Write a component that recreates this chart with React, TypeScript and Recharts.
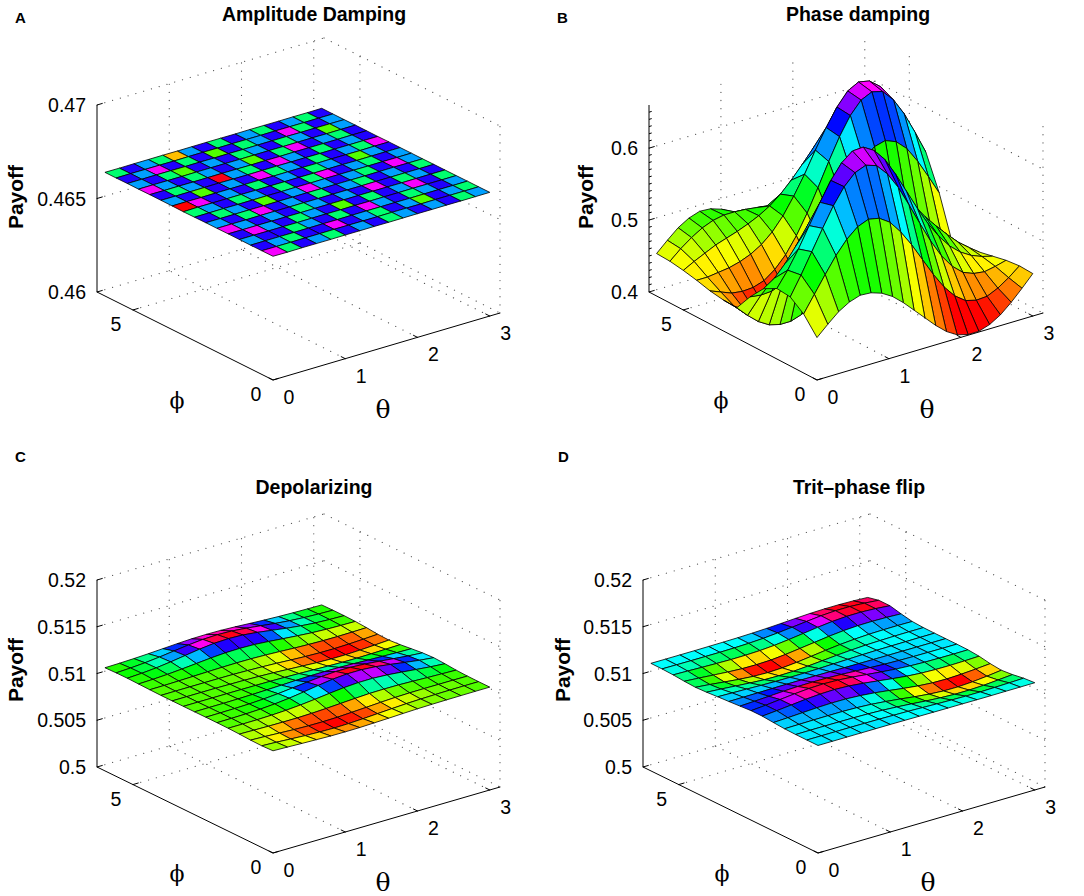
import { Scatter, ScatterChart, XAxis, YAxis } from "recharts";

const SANS = '"Liberation Sans", Arial, Helvetica, sans-serif';
const SERIF = '"DejaVu Serif", "Liberation Serif", serif';

const CHART_W = 540;
const CHART_H = 440;

// sample points of the surfaces (theta along the right axis, phi along the left one)
const thetaSamples = [0, 0.2, 0.4, 0.6, 0.8, 1, 1.2, 1.4, 1.6, 1.8, 2, 2.2, 2.4, 2.6, 2.8, 3];
const phiSamples = [0, 0.4, 0.8, 1.2, 1.6, 2, 2.4, 2.8, 3.2, 3.6, 4, 4.4, 4.8, 5.2, 5.6, 6];
const thetaSamplesPhase = [
  0, 0.15, 0.3, 0.45, 0.6, 0.75, 0.9, 1.05, 1.2, 1.35, 1.5, 1.65, 1.8, 1.95, 2.1, 2.25, 2.4, 2.55, 2.7, 2.85, 3,
];
const phiSamplesPhase = [0, 0.5, 1, 1.5, 2, 2.5, 3, 3.5, 4, 4.5, 5, 5.5, 6];

const thetaTicks = [0, 1, 2, 3];
const phiTicks = [0, 5];
const amplitudeTicks = [0.46, 0.465, 0.47];
const phaseTicks = [0.4, 0.5, 0.6];
const phaseMinorTicks = [
  0.41, 0.42, 0.43, 0.44, 0.45, 0.46, 0.47, 0.48, 0.49, 0.51, 0.52, 0.53, 0.54, 0.55, 0.56, 0.57, 0.58, 0.59, 0.61,
  0.62, 0.63, 0.64, 0.65,
];
const channelTicks = [0.5, 0.505, 0.51, 0.515, 0.52];

// payoff[phi][theta]
const amplitudeDamping = [
  [0.4666167, 0.4666083, 0.4666138, 0.4666113, 0.4666083, 0.4666138, 0.4666113, 0.4666138, 0.4666083, 0.4666113, 0.4666138, 0.4666113, 0.4666138, 0.4666083, 0.4666113, 0.4666138],
  [0.4666138, 0.4666113, 0.4666083, 0.4666138, 0.4666138, 0.4666167, 0.4666138, 0.4666113, 0.4666083, 0.4666138, 0.4666113, 0.4666058, 0.4666138, 0.4666113, 0.4666083, 0.4666113],
  [0.4666113, 0.4666138, 0.4666138, 0.4666083, 0.4666113, 0.4666138, 0.4666083, 0.4666138, 0.4666167, 0.4666113, 0.4666138, 0.4666083, 0.4666113, 0.4666138, 0.4666113, 0.4666138],
  [0.4666138, 0.4666167, 0.4666113, 0.4666138, 0.4666083, 0.4666113, 0.4666138, 0.4666058, 0.4666138, 0.4666083, 0.4666138, 0.4666113, 0.4666167, 0.4666138, 0.4666083, 0.4666113],
  [0.4666167, 0.4666113, 0.4666138, 0.4666113, 0.4666138, 0.4666083, 0.4666113, 0.4666138, 0.4666113, 0.4666138, 0.4666167, 0.4666138, 0.4666083, 0.4666113, 0.4666138, 0.4666113],
  [0.4666113, 0.4666138, 0.4666083, 0.4666167, 0.4666138, 0.4666113, 0.4666138, 0.4666083, 0.4666138, 0.4666113, 0.4666083, 0.4666138, 0.4666113, 0.4666138, 0.4666083, 0.4666138],
  [0.4666138, 0.4666083, 0.4666113, 0.4666138, 0.4666058, 0.4666138, 0.4666113, 0.4666167, 0.4666113, 0.4666138, 0.4666113, 0.4666083, 0.4666138, 0.4666167, 0.4666113, 0.4666083],
  [0.4666083, 0.4666113, 0.4666138, 0.4666083, 0.4666113, 0.4666138, 0.4666083, 0.4666138, 0.4666083, 0.4666167, 0.4666138, 0.4666113, 0.4666083, 0.4666138, 0.4666113, 0.4666138],
  [0.4666, 0.4666167, 0.4666138, 0.4666113, 0.4666138, 0.4666083, 0.4666138, 0.4666113, 0.4666138, 0.4666083, 0.4666113, 0.4666138, 0.4666058, 0.4666113, 0.4666138, 0.4666113],
  [0.4666113, 0.4666138, 0.4666058, 0.4666138, 0.4666113, 0.4666138, 0.4666167, 0.4666083, 0.4666113, 0.4666138, 0.4666083, 0.4666138, 0.4666113, 0.4666083, 0.4666167, 0.4666138],
  [0.4666138, 0.4666083, 0.4666113, 0.4666138, 0.46662, 0.4666113, 0.4666083, 0.4666138, 0.4666167, 0.4666113, 0.4666138, 0.4666083, 0.4666138, 0.4666113, 0.4666138, 0.4666083],
  [0.4666167, 0.4666113, 0.4666138, 0.4666083, 0.4666113, 0.4666138, 0.4666113, 0.4666058, 0.4666138, 0.4666083, 0.4666167, 0.4666138, 0.4666113, 0.4666083, 0.4666138, 0.4666113],
  [0.4666113, 0.4666138, 0.4666083, 0.4666058, 0.4666138, 0.4666113, 0.4666138, 0.4666083, 0.4666113, 0.4666138, 0.4666083, 0.4666113, 0.4666138, 0.4666058, 0.4666113, 0.4666138],
  [0.4666138, 0.4666113, 0.4666167, 0.4666138, 0.4666083, 0.4666138, 0.4666058, 0.4666138, 0.4666083, 0.4666113, 0.4666138, 0.4666167, 0.4666083, 0.4666138, 0.4666113, 0.4666083],
  [0.4666083, 0.4666138, 0.4666113, 0.4666083, 0.4666027, 0.4666113, 0.4666138, 0.4666083, 0.4666138, 0.4666113, 0.4666083, 0.4666138, 0.4666113, 0.4666083, 0.4666138, 0.4666113],
  [0.4666113, 0.4666083, 0.4666138, 0.4666113, 0.4666138, 0.4666083, 0.4666113, 0.4666138, 0.4666113, 0.4666083, 0.4666138, 0.4666113, 0.4666083, 0.4666113, 0.4666083, 0.4666138],
];

const phaseDamping = [
  [0.459, 0.473, 0.486, 0.495, 0.5, 0.499, 0.494, 0.485, 0.472, 0.457, 0.442, 0.427, 0.414, 0.405, 0.401, 0.401, 0.406, 0.415, 0.428, 0.443, 0.459],
  [0.482, 0.505, 0.528, 0.55, 0.568, 0.581, 0.587, 0.584, 0.574, 0.556, 0.534, 0.509, 0.484, 0.462, 0.445, 0.434, 0.43, 0.431, 0.438, 0.448, 0.46],
  [0.496, 0.522, 0.55, 0.578, 0.605, 0.627, 0.642, 0.648, 0.643, 0.627, 0.604, 0.575, 0.545, 0.516, 0.491, 0.472, 0.459, 0.453, 0.451, 0.454, 0.458],
  [0.498, 0.519, 0.544, 0.572, 0.6, 0.626, 0.646, 0.658, 0.659, 0.65, 0.633, 0.608, 0.58, 0.552, 0.526, 0.504, 0.486, 0.473, 0.464, 0.458, 0.454],
  [0.488, 0.498, 0.514, 0.534, 0.556, 0.578, 0.598, 0.613, 0.62, 0.62, 0.612, 0.599, 0.581, 0.561, 0.541, 0.521, 0.504, 0.488, 0.473, 0.461, 0.45],
  [0.467, 0.465, 0.466, 0.472, 0.482, 0.495, 0.51, 0.524, 0.536, 0.544, 0.549, 0.549, 0.546, 0.54, 0.531, 0.52, 0.507, 0.492, 0.476, 0.46, 0.445],
  [0.442, 0.427, 0.414, 0.405, 0.401, 0.401, 0.406, 0.415, 0.428, 0.443, 0.459, 0.473, 0.486, 0.495, 0.5, 0.499, 0.494, 0.485, 0.472, 0.457, 0.442],
  [0.443, 0.43, 0.42, 0.413, 0.411, 0.415, 0.424, 0.439, 0.459, 0.483, 0.51, 0.537, 0.561, 0.581, 0.594, 0.598, 0.592, 0.578, 0.556, 0.53, 0.503],
  [0.446, 0.44, 0.434, 0.432, 0.433, 0.438, 0.449, 0.465, 0.487, 0.514, 0.545, 0.577, 0.607, 0.632, 0.649, 0.656, 0.652, 0.636, 0.612, 0.582, 0.55],
  [0.451, 0.451, 0.453, 0.455, 0.459, 0.465, 0.474, 0.487, 0.505, 0.528, 0.554, 0.583, 0.61, 0.634, 0.652, 0.66, 0.657, 0.645, 0.624, 0.598, 0.57],
  [0.455, 0.463, 0.47, 0.477, 0.482, 0.487, 0.493, 0.5, 0.509, 0.521, 0.536, 0.553, 0.571, 0.587, 0.6, 0.607, 0.607, 0.601, 0.59, 0.575, 0.558],
  [0.458, 0.471, 0.482, 0.491, 0.497, 0.5, 0.5, 0.499, 0.497, 0.495, 0.495, 0.496, 0.499, 0.503, 0.508, 0.512, 0.515, 0.517, 0.518, 0.518, 0.517],
  [0.459, 0.473, 0.486, 0.495, 0.5, 0.499, 0.494, 0.485, 0.472, 0.457, 0.442, 0.427, 0.414, 0.405, 0.401, 0.401, 0.406, 0.415, 0.428, 0.443, 0.459],
];

const depolarizing = [
  [0.51093, 0.51088, 0.51082, 0.51077, 0.51072, 0.51071, 0.51072, 0.51077, 0.51082, 0.51088, 0.51093, 0.51096, 0.51098, 0.51099, 0.511, 0.511],
  [0.51088, 0.51081, 0.51071, 0.51062, 0.51056, 0.51053, 0.51056, 0.51063, 0.51072, 0.51081, 0.51089, 0.51094, 0.51097, 0.51099, 0.511, 0.511],
  [0.5109, 0.51084, 0.51076, 0.51068, 0.51063, 0.51062, 0.51065, 0.51073, 0.51081, 0.5109, 0.51097, 0.51101, 0.51102, 0.51102, 0.51102, 0.51101],
  [0.51096, 0.51093, 0.5109, 0.51089, 0.51089, 0.51093, 0.511, 0.51109, 0.51118, 0.51126, 0.51128, 0.51127, 0.51122, 0.51116, 0.51111, 0.51106],
  [0.511, 0.511, 0.51101, 0.51105, 0.51112, 0.51124, 0.5114, 0.51158, 0.51174, 0.51184, 0.51185, 0.51176, 0.51161, 0.51144, 0.51128, 0.51116],
  [0.51101, 0.51102, 0.51105, 0.51111, 0.51122, 0.51138, 0.5116, 0.51184, 0.51206, 0.51218, 0.51218, 0.51206, 0.51185, 0.51161, 0.51139, 0.51122],
  [0.51101, 0.51102, 0.51104, 0.51108, 0.51116, 0.51128, 0.51144, 0.51161, 0.51176, 0.51185, 0.51185, 0.51175, 0.5116, 0.51143, 0.51127, 0.51115],
  [0.511, 0.51101, 0.51101, 0.51103, 0.51106, 0.5111, 0.51115, 0.51121, 0.51125, 0.51126, 0.51125, 0.5112, 0.51114, 0.51109, 0.51104, 0.51101],
  [0.511, 0.511, 0.511, 0.511, 0.511, 0.51099, 0.51098, 0.51095, 0.51091, 0.51086, 0.51081, 0.51077, 0.51076, 0.51078, 0.51082, 0.51086],
  [0.511, 0.511, 0.511, 0.511, 0.51098, 0.51096, 0.51092, 0.51086, 0.51077, 0.51068, 0.51059, 0.51054, 0.51054, 0.51059, 0.51067, 0.51076],
  [0.511, 0.51101, 0.51101, 0.51101, 0.51101, 0.511, 0.51096, 0.51091, 0.51084, 0.51075, 0.51067, 0.51062, 0.51061, 0.51065, 0.51072, 0.5108],
  [0.51102, 0.51103, 0.51106, 0.5111, 0.51114, 0.51117, 0.51119, 0.51118, 0.51113, 0.51106, 0.51098, 0.51092, 0.51088, 0.51087, 0.51089, 0.51092],
  [0.51105, 0.5111, 0.51118, 0.5113, 0.51144, 0.51158, 0.51168, 0.51171, 0.51167, 0.51155, 0.5114, 0.51126, 0.51114, 0.51106, 0.51102, 0.511],
  [0.51108, 0.51116, 0.51129, 0.51148, 0.51171, 0.51194, 0.51211, 0.51217, 0.51211, 0.51194, 0.51171, 0.51148, 0.51129, 0.51115, 0.51107, 0.51103],
  [0.51107, 0.51114, 0.51125, 0.51141, 0.51161, 0.5118, 0.51195, 0.512, 0.51195, 0.5118, 0.51161, 0.51141, 0.51125, 0.51114, 0.51107, 0.51103],
  [0.51103, 0.51106, 0.51111, 0.51118, 0.51127, 0.51136, 0.51143, 0.51145, 0.51143, 0.51136, 0.51127, 0.51118, 0.51111, 0.51106, 0.51103, 0.51101],
];

const tritPhaseFlip = [
  [0.5115, 0.5115, 0.5115, 0.5115, 0.5115, 0.5115, 0.51149, 0.51148, 0.51147, 0.51146, 0.51146, 0.51145, 0.51145, 0.51146, 0.51146, 0.51147],
  [0.5115, 0.5115, 0.5115, 0.5115, 0.51149, 0.51148, 0.51145, 0.51142, 0.51137, 0.51132, 0.51128, 0.51125, 0.51125, 0.51128, 0.51132, 0.51137],
  [0.5115, 0.51151, 0.51151, 0.5115, 0.51149, 0.51146, 0.5114, 0.5113, 0.51118, 0.51104, 0.51093, 0.51086, 0.51086, 0.51092, 0.51104, 0.51117],
  [0.51153, 0.51155, 0.51157, 0.51158, 0.51158, 0.51154, 0.51145, 0.5113, 0.51112, 0.51091, 0.51074, 0.51063, 0.51062, 0.51071, 0.51086, 0.51105],
  [0.51161, 0.51168, 0.51176, 0.51184, 0.51189, 0.51188, 0.51179, 0.51164, 0.51144, 0.51122, 0.51103, 0.51091, 0.51088, 0.51094, 0.51104, 0.51117],
  [0.51171, 0.51184, 0.512, 0.51216, 0.51227, 0.51231, 0.51224, 0.51208, 0.51188, 0.51167, 0.51149, 0.51137, 0.51131, 0.5113, 0.51133, 0.51138],
  [0.51171, 0.51184, 0.512, 0.51216, 0.51228, 0.51233, 0.51228, 0.51215, 0.51198, 0.51181, 0.51166, 0.51156, 0.5115, 0.51148, 0.51147, 0.51148],
  [0.51161, 0.51168, 0.51176, 0.51185, 0.51191, 0.51193, 0.51191, 0.51185, 0.51176, 0.51168, 0.5116, 0.51155, 0.51152, 0.51151, 0.5115, 0.5115],
  [0.51152, 0.51153, 0.51154, 0.51156, 0.51157, 0.51157, 0.51157, 0.51156, 0.51154, 0.51153, 0.51152, 0.51151, 0.51151, 0.5115, 0.5115, 0.5115],
  [0.51144, 0.5114, 0.51136, 0.51131, 0.51128, 0.51127, 0.51128, 0.51131, 0.51136, 0.5114, 0.51144, 0.51147, 0.51148, 0.51149, 0.5115, 0.5115],
  [0.51134, 0.51123, 0.5111, 0.51098, 0.51088, 0.51085, 0.51088, 0.51098, 0.51111, 0.51124, 0.51135, 0.51143, 0.51147, 0.5115, 0.51151, 0.51151],
  [0.51128, 0.51113, 0.51095, 0.51078, 0.51065, 0.5106, 0.51066, 0.5108, 0.51099, 0.51119, 0.51136, 0.51148, 0.51156, 0.51159, 0.5116, 0.51158],
  [0.51134, 0.51123, 0.5111, 0.51098, 0.51089, 0.51087, 0.51092, 0.51106, 0.51125, 0.51145, 0.51165, 0.5118, 0.51189, 0.51191, 0.51188, 0.51181],
  [0.51144, 0.5114, 0.51135, 0.51131, 0.51128, 0.51129, 0.51134, 0.51145, 0.51162, 0.51182, 0.51203, 0.5122, 0.5123, 0.51231, 0.51223, 0.51209],
  [0.51149, 0.51148, 0.51147, 0.51147, 0.51147, 0.51149, 0.51153, 0.51161, 0.51174, 0.5119, 0.51207, 0.51223, 0.51232, 0.51232, 0.51223, 0.51209],
  [0.5115, 0.5115, 0.5115, 0.5115, 0.51151, 0.51152, 0.51154, 0.51158, 0.51164, 0.51172, 0.51181, 0.51189, 0.51193, 0.51193, 0.51189, 0.51181],
];

// view of the 3-D box: screen extent (px right, px up) of the full theta / phi range and of the z range
const THETA_MAX = Math.PI;
const PHI_MAX = 2 * Math.PI;
const Z_SPAN = 187;

type Panel = {
  letter: string;
  title: string;
  thetas: number[];
  phis: number[];
  values: number[][];
  zMin: number;
  zMax: number;
  zTicks: number[];
  zMinor: number[];
  hueTop: number;
  left: number;
  top: number;
  origin: [number, number];
  thetaDir: [number, number];
  phiDir: [number, number];
  payoffX: number;
  titleY: number;
  letterX: number;
  letterY: number;
};

const panels: Panel[] = [
  {
    letter: "A", title: "Amplitude Damping", thetas: thetaSamples, phis: phiSamples, values: amplitudeDamping,
    zMin: 0.46, zMax: 0.47, zTicks: amplitudeTicks, zMinor: [], hueTop: 354, left: 0, top: 0,
    origin: [273, 60], thetaDir: [227, 67], phiDir: [-176, 88], payoffX: 15, titleY: 21, letterX: 15, letterY: 23,
  },
  {
    letter: "B", title: "Phase damping", thetas: thetaSamplesPhase, phis: phiSamplesPhase, values: phaseDamping,
    zMin: 0.4, zMax: 0.66, zTicks: phaseTicks, zMinor: phaseMinorTicks, hueTop: 300, left: 540, top: 0,
    origin: [277, 60], thetaDir: [226, 67], phiDir: [-168, 88], payoffX: 45, titleY: 21, letterX: 17, letterY: 23,
  },
  {
    letter: "C", title: "Depolarizing", thetas: thetaSamples, phis: phiSamples, values: depolarizing,
    zMin: 0.5, zMax: 0.52, zTicks: channelTicks, zMinor: [], hueTop: 354, left: 0, top: 445,
    origin: [273, 32], thetaDir: [227, 66], phiDir: [-176, 86], payoffX: 15, titleY: 49, letterX: 15, letterY: 17,
  },
  {
    letter: "D", title: "Trit\u2013phase flip", thetas: thetaSamples, phis: phiSamples, values: tritPhaseFlip,
    zMin: 0.5, zMax: 0.52, zTicks: channelTicks, zMinor: [], hueTop: 354, left: 540, top: 445,
    origin: [278, 32], thetaDir: [227, 66], phiDir: [-175, 86], payoffX: 22, titleY: 49, letterX: 18, letterY: 17,
  },
];

function project(p: Panel, th: number, ph: number, z: number) {
  const a = th / THETA_MAX;
  const b = ph / PHI_MAX;
  const c = (z - p.zMin) / (p.zMax - p.zMin);
  return {
    x: p.origin[0] + a * p.thetaDir[0] + b * p.phiDir[0],
    y: p.origin[1] + a * p.thetaDir[1] + b * p.phiDir[1] + c * Z_SPAN,
  };
}

// 64-step hsv colormap
function hsvColor(frac: number, hueTop: number) {
  const idx = Math.max(0, Math.min(63, Math.floor(frac * 64)));
  return `hsl(${((idx / 63) * hueTop).toFixed(1)}, 100%, 50%)`;
}

type Seg = [number, number, number][];

function gridSegments(p: Panel): Seg[] {
  const segs: Seg[] = [];
  p.zTicks.forEach((z) => {
    segs.push([[0, PHI_MAX, z], [THETA_MAX, PHI_MAX, z]]);
    segs.push([[THETA_MAX, PHI_MAX, z], [THETA_MAX, 0, z]]);
  });
  thetaTicks.filter((t) => t > 0).forEach((t) => {
    segs.push([[t, PHI_MAX, p.zMin], [t, PHI_MAX, p.zMax]]);
    segs.push([[t, 0, p.zMin], [t, PHI_MAX, p.zMin]]);
  });
  phiTicks.forEach((f) => {
    segs.push([[THETA_MAX, f, p.zMin], [THETA_MAX, f, p.zMax]]);
    if (f > 0) segs.push([[0, f, p.zMin], [THETA_MAX, f, p.zMin]]);
  });
  return segs;
}

function axisSegments(p: Panel): Seg[] {
  const segs: Seg[] = [
    [[0, PHI_MAX, p.zMin], [0, PHI_MAX, p.zMax]],
    [[0, 0, p.zMin], [THETA_MAX, 0, p.zMin]],
    [[0, 0, p.zMin], [0, PHI_MAX, p.zMin]],
  ];
  thetaTicks.forEach((t) => segs.push([[t, 0, p.zMin], [t, PHI_MAX * 0.025, p.zMin]]));
  phiTicks.forEach((f) => segs.push([[0, f, p.zMin], [THETA_MAX * 0.025, f, p.zMin]]));
  p.zTicks.forEach((z) => segs.push([[0, PHI_MAX, z], [THETA_MAX * 0.025, PHI_MAX, z]]));
  p.zMinor.forEach((z) => segs.push([[0, PHI_MAX, z], [THETA_MAX * 0.012, PHI_MAX, z]]));
  return segs;
}

function buildSurface(p: Panel) {
  const all = p.values.flat();
  const lo = Math.min(...all);
  const hi = Math.max(...all);
  const cells: { i: number; j: number; depth: number }[] = [];
  for (let j = 0; j < p.phis.length - 1; j++) {
    for (let i = 0; i < p.thetas.length - 1; i++) {
      const depth =
        ((p.thetas[i] + p.thetas[i + 1]) / 2 / THETA_MAX) * p.thetaDir[1] +
        ((p.phis[j] + p.phis[j + 1]) / 2 / PHI_MAX) * p.phiDir[1];
      cells.push({ i, j, depth });
    }
  }
  // painter's order: farthest cells first
  cells.sort((a, b) => b.depth - a.depth);
  const points: { x: number; y: number }[] = [];
  const colors: string[] = [];
  cells.forEach(({ i, j }) => {
    [[i, j], [i + 1, j], [i + 1, j + 1], [i, j + 1]].forEach(([ci, cj]) => {
      points.push(project(p, p.thetas[ci], p.phis[cj], p.values[cj][ci]));
    });
    colors.push(hsvColor((p.values[j][i] - lo) / (hi - lo), p.hueTop));
  });
  return { points, colors };
}

const hiddenPoint = () => <g />;

const segmentLayer = (style: Record<string, any>) => (props: any) => {
  const pts = props.points || [];
  const out = [];
  for (let k = 0; k + 1 < pts.length; k += 2) {
    out.push(<line key={k} x1={pts[k].x} y1={pts[k].y} x2={pts[k + 1].x} y2={pts[k + 1].y} {...style} />);
  }
  return <g>{out}</g>;
};

const cellLayer = (colors: string[]) => (props: any) => {
  const pts = props.points || [];
  const out = [];
  for (let k = 0; k * 4 + 3 < pts.length; k++) {
    const q = pts.slice(k * 4, k * 4 + 4);
    out.push(
      <polygon
        key={k}
        points={q.map((pt: any) => `${pt.x},${pt.y}`).join(" ")}
        fill={colors[k]}
        stroke="#000"
        strokeWidth={0.8}
        strokeLinejoin="round"
      />
    );
  }
  return <g>{out}</g>;
};

const tickLabel = (dx: number, dy: number, anchor: string) => (props: any) => (
  <text x={props.cx + dx} y={props.cy + dy} textAnchor={anchor} fontSize={19.5} fontFamily={SANS} fill="#000">
    {props.payload.label}
  </text>
);

const fmt = (v: number) => String(v);

function SurfacePanel({ p }: { p: Panel }) {
  const toPoints = (segs: Seg[]) => segs.flatMap((s) => s.map(([t, f, z]) => project(p, t, f, z)));
  const grid = toPoints(gridSegments(p));
  const axes = toPoints(axisSegments(p));
  const surface = buildSurface(p);
  const zLabels = p.zTicks.map((z) => ({ ...project(p, 0, PHI_MAX, z), label: fmt(z) }));
  const thetaLabels = thetaTicks.map((t) => ({ ...project(p, t, 0, p.zMin), label: fmt(t) }));
  const phiLabels = phiTicks.map((f) => ({ ...project(p, 0, f, p.zMin), label: fmt(f) }));
  const fx = p.origin[0];
  const fy = CHART_H - p.origin[1];

  return (
    <div style={{ position: "absolute", left: p.left, top: p.top, width: CHART_W, height: CHART_H }}>
      <ScatterChart width={CHART_W} height={CHART_H} margin={{ top: 0, right: 0, bottom: 0, left: 0 }}>
        <XAxis type="number" dataKey="x" domain={[0, CHART_W]} hide />
        <YAxis type="number" dataKey="y" domain={[0, CHART_H]} hide />
        <Scatter
          data={grid}
          shape={hiddenPoint}
          line={segmentLayer({ stroke: "#555", strokeWidth: 1.2, strokeDasharray: "0.1 8", strokeLinecap: "round" })}
          isAnimationActive={false}
        />
        <Scatter
          data={axes}
          shape={hiddenPoint}
          line={segmentLayer({ stroke: "#000", strokeWidth: 1 })}
          isAnimationActive={false}
        />
        <Scatter data={surface.points} shape={hiddenPoint} line={cellLayer(surface.colors)} isAnimationActive={false} />
        <Scatter data={zLabels} shape={tickLabel(-11, 7, "end")} isAnimationActive={false} />
        <Scatter data={thetaLabels} shape={tickLabel(16, 24, "middle")} isAnimationActive={false} />
        <Scatter data={phiLabels} shape={tickLabel(-17, 21, "middle")} isAnimationActive={false} />
      </ScatterChart>
      <svg
        width={CHART_W}
        height={CHART_H}
        style={{ position: "absolute", left: 0, top: 0, overflow: "visible", pointerEvents: "none" }}
      >
        <text x={p.letterX} y={p.letterY} fontSize={15} fontWeight="bold" fontFamily={SANS} fill="#000">
          {p.letter}
        </text>
        <text x={fx + 41} y={p.titleY} textAnchor="middle" fontSize={19.5} fontWeight="bold" fontFamily={SANS} fill="#000">
          {p.title}
        </text>
        <text
          transform={`translate(${p.payoffX},${fy - 183}) rotate(-90)`}
          textAnchor="middle"
          dominantBaseline="central"
          fontSize={21}
          fontWeight="bold"
          fontFamily={SANS}
          fill="#000"
        >
          Payoff
        </text>
        <text x={fx + 110} y={fy + 38} textAnchor="middle" fontSize={25} fontFamily={SERIF} fill="#000">
          θ
        </text>
        <text x={fx - 96} y={fy + 28} textAnchor="middle" fontSize={22} fontFamily={SERIF} fill="#000">
          ϕ
        </text>
      </svg>
    </div>
  );
}

export default function App() {
  return (
    <div style={{ position: "absolute", left: 0, top: 0, width: 1084, height: 896, background: "#fff" }}>
      {panels.map((p) => (
        <SurfacePanel key={p.letter} p={p} />
      ))}
    </div>
  );
}
